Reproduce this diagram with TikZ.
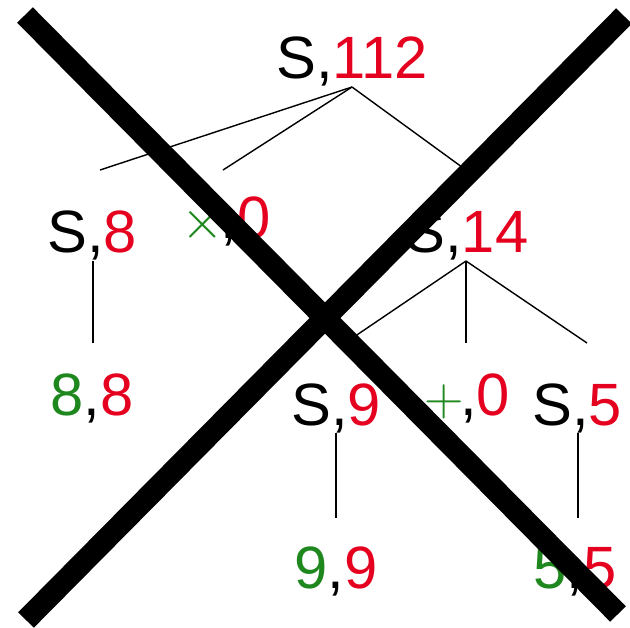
\documentclass[tikz,border=0pt]{standalone}
\usepackage{fontspec}
\setmainfont{Liberation Sans}
\usepackage{xcolor}
\usepackage{graphicx}
\usetikzlibrary{calc}
\definecolor{valred}{RGB}{228,0,30}
\definecolor{opgreen}{RGB}{30,135,30}
\newcommand{\rv}[1]{\textcolor{valred}{#1}}
\newcommand{\gv}[1]{\textcolor{opgreen}{#1}}
\newcommand{\opsym}[1]{\textcolor{opgreen}{\scalebox{1.25}{$#1$}}}

\begin{document}
\begin{tikzpicture}[
  x=0.02cm, y=-0.02cm,
  lbl/.style={anchor=base, inner sep=0pt, font=\fontsize{34}{40}\selectfont},
  edge/.style={line width=0.8pt},
  strike/.style={line width=22*0.02cm, line cap=butt}
]
\useasboundingbox (0,0) rectangle (630,627);
% tree nodes
\node[lbl] (root) at (352, 78) {S,\rv{112}};
\node[lbl] (s8)   at (92, 252) {S,\rv{8}};
\node[lbl] (mul)  at (226, 238) {\opsym{\times}\kern-2pt,\rv{0}};
\node[lbl] (s14)  at (467, 252) {S,\rv{14}};
\node[lbl] (l8)   at (92, 415) {\gv{8},\rv{8}};
\node[lbl] (s9)   at (336, 425) {S,\rv{9}};
\node[lbl] (add)  at (467, 415) {\opsym{+}\kern-2pt,\rv{0}};
\node[lbl] (s5)   at (577, 425) {S,\rv{5}};
\node[lbl] (l9)   at (336, 588) {\gv{9},\rv{9}};
\node[lbl] (l5)   at (575, 588) {\gv{5},\rv{5}};
% edge ends
\coordinate (rootB) at ($(root.base)+(0,9)$);
\coordinate (s8B)   at ($(s8.base)+(1,9)$);
\coordinate (s14B)  at ($(s14.base)+(-1,9)$);
\coordinate (s9B)   at ($(s9.base)+(0,8)$);
\coordinate (s5B)   at ($(s5.base)+(1,8)$);
\coordinate (s8T)   at ($(s8.base)+(8,-82)$);
\coordinate (mulT)  at ($(mul.base)+(-3,-68)$);
\coordinate (s14T)  at ($(s14.base)+(-1,-82)$);
\coordinate (l8T)   at ($(l8.base)+(1,-72)$);
\coordinate (s9T)   at ($(s9.base)+(9,-82)$);
\coordinate (addT)  at ($(add.base)+(-1,-72)$);
\coordinate (s5T)   at ($(s5.base)+(10,-82)$);
\coordinate (l9T)   at ($(l9.base)+(0,-70)$);
\coordinate (l5T)   at ($(l5.base)+(3,-70)$);
% connectors
\draw[edge] (rootB) -- (s8T);
\draw[edge] (rootB) -- (mulT);
\draw[edge] (rootB) -- (s14T);
\draw[edge] (s8B) -- (l8T);
\draw[edge] (s14B) -- (s9T);
\draw[edge] (s14B) -- (addT);
\draw[edge] (s14B) -- (s5T);
\draw[edge] (s9B) -- (l9T);
\draw[edge] (s5B) -- (l5T);
% big cross
\draw[strike] (25,15) -- (618,614);
\draw[strike] (26,620) -- (624,16);
\end{tikzpicture}
\end{document}
